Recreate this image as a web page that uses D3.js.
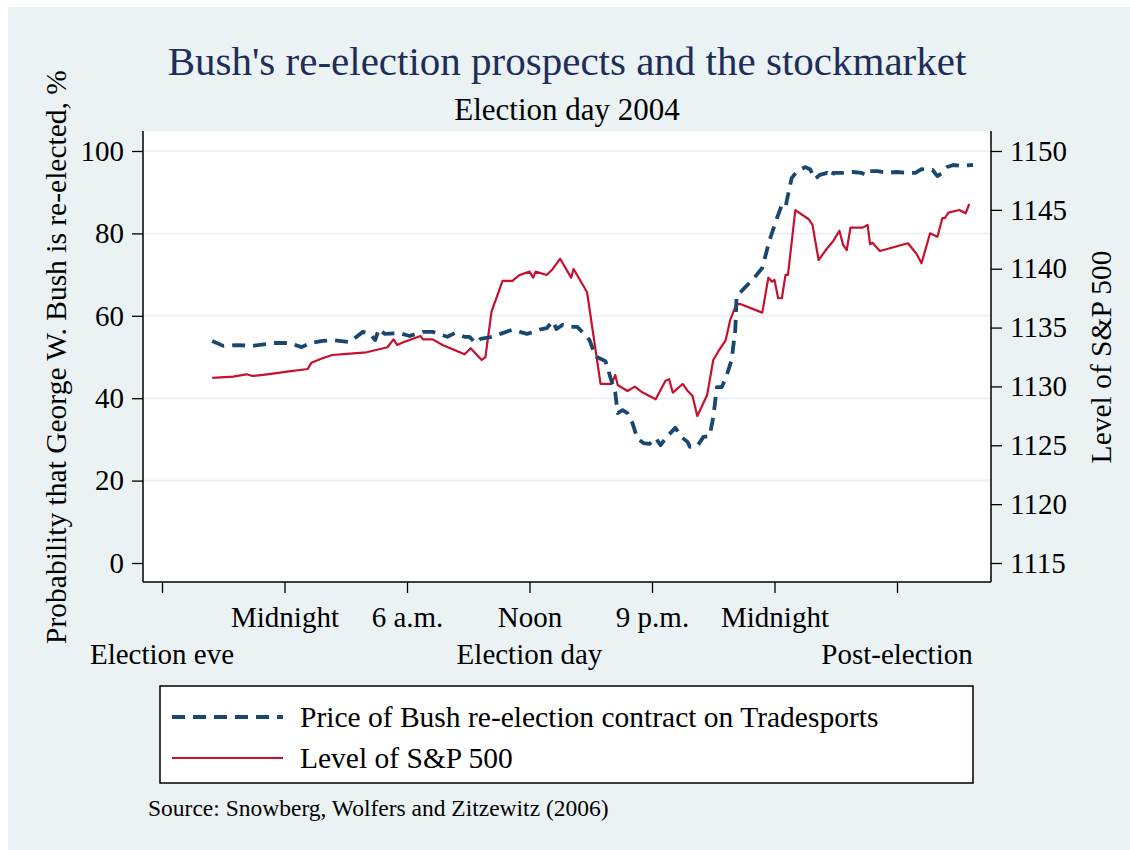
<!DOCTYPE html>
<meta charset="utf-8">
<style>
  body { margin: 0; background: #fff; }
  text { font-family: "Liberation Serif", "Times New Roman", serif; }
</style>
<script src="https://d3js.org/d3.v7.min.js"></script>
<div id="chart"></div>
<script>

// x positions are in "tick units": 0 = Election eve, 1 = Midnight, 2 = 6 a.m., 3 = Noon, 4 = 9 p.m., 5 = Midnight
var tickPos = [0, 1, 2, 3, 4, 5, 6];
var tickLabels = ["", "Midnight", "6 a.m.", "Noon", "9 p.m.", "Midnight", ""];
var periodPos = [0, 3, 6];
var periodLabels = ["Election eve", "Election day", "Post-election"];

// Tradesports price (%), left axis
var bushX = [0.41,0.50,0.61,0.74,0.91,1.04,1.14,1.21,1.31,1.40,1.53,1.64,1.70,1.74,1.77,1.82,1.94,2.02,2.13,2.21,
  2.33,2.39,2.47,2.51,2.56,2.60,2.70,2.78,2.86,2.92,2.98,3.03,3.09,3.14,3.19,3.22,3.27,3.33,3.39,3.44,
  3.49,3.52,3.55,3.62,3.66,3.70,3.72,3.76,3.80,3.84,3.88,3.93,3.98,4.03,4.07,4.12,4.19,4.24,4.29,4.31,
  4.37,4.42,4.47,4.50,4.53,4.57,4.61,4.65,4.68,4.69,4.74,4.82,4.90,4.96,5.02,5.06,5.09,5.11,5.14,5.18,
  5.25,5.29,5.33,5.37,5.43,5.47,5.48,5.58,5.64,5.71,5.74,5.76,5.84,5.92,6.00,6.08,6.15,6.20,6.29,6.33,
  6.37,6.41,6.46,6.53,6.62];
var bushY = [53.9,52.7,52.9,52.7,53.4,53.4,52.4,53.4,53.9,54.1,53.6,56.1,55.6,54.1,56.8,55.6,55.8,55.1,56.1,56.1,
  54.9,55.8,54.9,54.9,53.4,54.4,54.9,55.8,56.6,56.1,55.6,56.1,56.7,57.0,58.7,56.8,57.8,57.3,57.3,55.8,
  54.1,51.7,50.0,49.0,45.1,41.3,36.4,37.1,36.4,34.0,30.3,29.1,28.9,30.3,28.6,30.6,32.8,30.6,29.4,28.2,
  28.4,30.6,30.8,35.4,42.7,42.7,45.6,49.3,56.6,64.6,66.3,68.7,71.6,78.4,83.7,86.9,86.4,89.3,93.4,94.9,
  96.1,95.6,93.2,94.2,94.7,93.7,94.7,94.7,94.9,94.7,94.2,95.1,95.1,94.7,94.9,94.7,94.7,95.6,95.4,93.9,
  94.7,96.1,96.6,96.4,96.6];

// S&P 500 level, right axis
var spX = [0.41,0.58,0.69,0.74,0.86,1.02,1.19,1.22,1.31,1.39,1.51,1.67,1.84,1.89,1.92,1.97,2.11,2.13,2.21,2.29,
  2.47,2.52,2.61,2.64,2.69,2.78,2.86,2.92,3.00,3.03,3.05,3.14,3.19,3.25,3.34,3.36,3.47,3.58,3.67,3.70,
  3.72,3.80,3.86,3.92,4.03,4.11,4.14,4.17,4.25,4.29,4.33,4.37,4.45,4.50,4.54,4.60,4.64,4.69,4.72,4.90,
  4.95,4.98,5.00,5.03,5.06,5.09,5.11,5.17,5.28,5.31,5.36,5.43,5.48,5.53,5.56,5.59,5.62,5.72,5.76,5.78,
  5.80,5.86,6.09,6.16,6.20,6.27,6.33,6.37,6.39,6.42,6.51,6.56,6.59];
var spY = [1130.72,1130.83,1131.03,1130.89,1131.03,1131.25,1131.48,1132.02,1132.39,1132.67,1132.76,1132.90,1133.33,1134.00,1133.52,1133.75,1134.29,1134.00,1134.00,1133.52,
  1132.73,1133.24,1132.25,1132.48,1136.35,1138.96,1138.96,1139.47,1139.75,1139.24,1139.75,1139.47,1139.98,1140.85,1139.24,1139.98,1138.00,1130.21,1130.21,1130.97,
  1130.12,1129.61,1129.98,1129.50,1128.91,1130.49,1130.61,1129.47,1130.21,1129.64,1129.21,1127.49,1129.27,1132.25,1132.95,1133.89,1135.70,1137.00,1137.00,1136.27,
  1139.24,1138.90,1139.04,1137.49,1137.49,1139.47,1139.47,1144.98,1144.20,1143.72,1140.74,1141.74,1142.36,1143.23,1142.02,1141.59,1143.49,1143.49,1143.72,1142.08,
  1142.21,1141.51,1142.16,1141.25,1140.46,1143.01,1142.72,1144.29,1144.29,1144.76,1144.99,1144.71,1145.50];

var leftTicks = [0, 20, 40, 60, 80, 100];
var rightTicks = [1115, 1120, 1125, 1130, 1135, 1140, 1145, 1150];

var W = 1130, H = 850;
var plot = {left: 143, right: 991, top: 131, bottom: 582};

var svg = d3.select("#chart").append("svg")
  .attr("width", W)
  .attr("height", H);

// graph region
svg.append("rect").attr("x", 8).attr("y", 7).attr("width", W - 8).attr("height", H - 7)
  .attr("fill", "#eaf2f3");
svg.append("rect").attr("x", plot.left).attr("y", plot.top)
  .attr("width", plot.right - plot.left).attr("height", plot.bottom - plot.top)
  .attr("fill", "#fff");

var x = d3.scaleLinear().domain([0, 6]).range([162, 897]);
var yL = d3.scaleLinear().domain([0, 100]).range([563, 151]);
var yR = d3.scaleLinear().domain([1115, 1150]).range([563, 151]);

// grid
svg.append("g").selectAll("line")
  .data(leftTicks.filter(function(d) { return d > 0; }))
  .enter().append("line")
    .attr("x1", plot.left).attr("x2", plot.right)
    .attr("y1", function(d) { return yL(d); })
    .attr("y2", function(d) { return yL(d); })
    .attr("stroke", "#eaf2f3").attr("stroke-width", 2);

// axes
var gL = svg.append("g")
  .attr("transform", "translate(" + plot.left + ",0)")
  .call(d3.axisLeft(yL).tickValues(leftTicks).tickSize(11).tickPadding(8));
var gR = svg.append("g")
  .attr("transform", "translate(" + plot.right + ",0)")
  .call(d3.axisRight(yR).tickValues(rightTicks).tickSize(11).tickPadding(8).tickFormat(d3.format("d")));
var gB = svg.append("g")
  .attr("transform", "translate(0," + plot.bottom + ")")
  .call(d3.axisBottom(x).tickValues(tickPos).tickSize(11).tickPadding(13)
    .tickFormat(function(d, i) { return tickLabels[i]; }));

[gL, gR, gB].forEach(function(g) {
  g.select(".domain").remove();
  g.selectAll("line").attr("stroke", "#000").attr("stroke-width", 1.3);
  g.selectAll("text").attr("fill", "#000")
    .style("font-family", "Liberation Serif").style("font-size", "29px");
});

// axis lines
svg.append("line").attr("x1", plot.left).attr("x2", plot.left).attr("y1", plot.top).attr("y2", plot.bottom)
  .attr("stroke", "#000").attr("stroke-width", 1.5);
svg.append("line").attr("x1", plot.right).attr("x2", plot.right).attr("y1", plot.top).attr("y2", plot.bottom)
  .attr("stroke", "#000").attr("stroke-width", 1.5);
svg.append("line").attr("x1", plot.left).attr("x2", plot.right).attr("y1", plot.bottom).attr("y2", plot.bottom)
  .attr("stroke", "#000").attr("stroke-width", 1.5);

// second row of x labels
svg.append("g").selectAll("text")
  .data(periodPos)
  .enter().append("text")
    .attr("x", function(d) { return x(d); })
    .attr("y", 664)
    .attr("text-anchor", "middle")
    .style("font-size", "29px")
    .text(function(d, i) { return periodLabels[i]; });

// lines
var bushLine = d3.line()
  .x(function(d) { return x(d[0]); })
  .y(function(d) { return yL(d[1]); });
var spLine = d3.line()
  .x(function(d) { return x(d[0]); })
  .y(function(d) { return yR(d[1]); });

svg.append("path")
  .datum(spX.map(function(v, i) { return [v, spY[i]]; }))
  .attr("d", spLine)
  .attr("fill", "none")
  .attr("stroke", "#c8102e")
  .attr("stroke-width", 2.2)
  .attr("stroke-linejoin", "round");

svg.append("path")
  .datum(bushX.map(function(v, i) { return [v, bushY[i]]; }))
  .attr("d", bushLine)
  .attr("fill", "none")
  .attr("stroke", "#1a476f")
  .attr("stroke-width", 3.8)
  .attr("stroke-dasharray", "13,8")
  .attr("stroke-linejoin", "round");

// titles
svg.append("text")
  .attr("x", 567).attr("y", 75)
  .attr("text-anchor", "middle")
  .attr("fill", "#1e2d5a")
  .style("font-size", "41px")
  .text("Bush's re-election prospects and the stockmarket");
svg.append("text")
  .attr("x", 567).attr("y", 120)
  .attr("text-anchor", "middle")
  .style("font-size", "31px")
  .text("Election day 2004");

svg.append("text")
  .attr("transform", "translate(66,357) rotate(-90)")
  .attr("text-anchor", "middle")
  .style("font-size", "29.5px")
  .text("Probability that George W. Bush is re-elected, %");
svg.append("text")
  .attr("transform", "translate(1111,357) rotate(-90)")
  .attr("text-anchor", "middle")
  .style("font-size", "29.5px")
  .text("Level of S&P 500");

// legend
var legend = svg.append("g");
legend.append("rect")
  .attr("x", 160).attr("y", 686).attr("width", 813).attr("height", 97)
  .attr("fill", "#fff").attr("stroke", "#000").attr("stroke-width", 1.5);
var legItems = [
  {label: "Price of Bush re-election contract on Tradesports", color: "#1a476f", width: 3.8, dash: "13,8", y: 717},
  {label: "Level of S&P 500", color: "#c8102e", width: 2.2, dash: null, y: 758}
];
legItems.forEach(function(d) {
  legend.append("line")
    .attr("x1", 172).attr("x2", 283).attr("y1", d.y).attr("y2", d.y)
    .attr("stroke", d.color).attr("stroke-width", d.width)
    .attr("stroke-dasharray", d.dash);
  legend.append("text")
    .attr("x", 300).attr("y", d.y + 10)
    .style("font-size", "29.5px")
    .text(d.label);
});

svg.append("text")
  .attr("x", 148).attr("y", 816)
  .style("font-size", "23.5px")
  .text("Source: Snowberg, Wolfers and Zitzewitz (2006)");

</script>
